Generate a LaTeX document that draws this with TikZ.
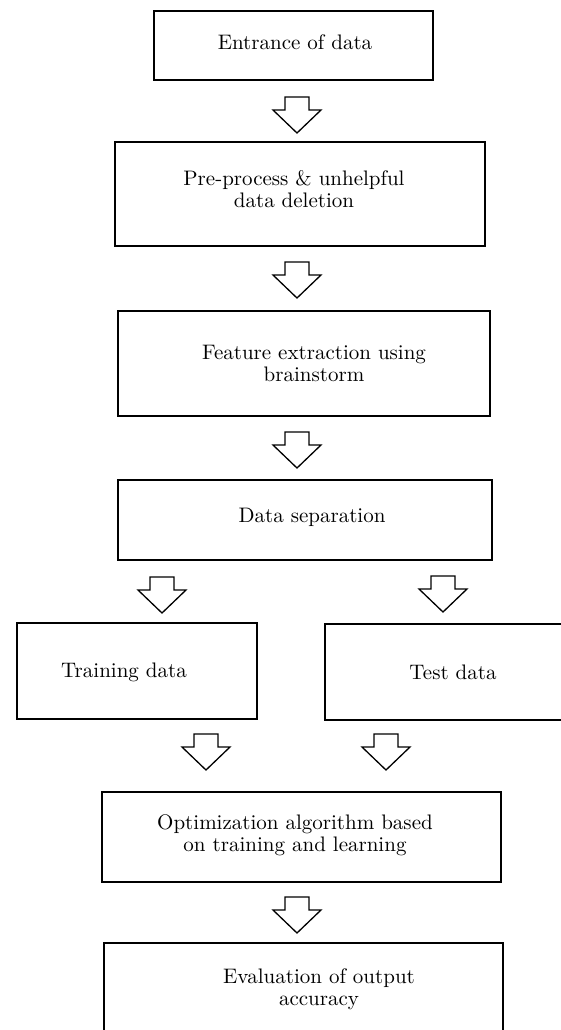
\documentclass[tikz,border=0pt]{standalone}
\begin{document}
\begin{tikzpicture}[x=0.5pt,y=-0.5pt,
  box/.style={draw=black,line width=1.3pt,rectangle,inner sep=0pt,fill=none},
  txt/.style={align=center,inner sep=0pt,font=\fontsize{10.5}{11}\selectfont},
  barrow/.pic={\draw[line width=0.65pt,line join=miter,fill=white]
     (-12,0) -- (12,0) -- (12,13) -- (24,13) -- (0,36) -- (-24,13) -- (-12,13) -- cycle;}
]
\useasboundingbox (0,0) rectangle (561,1030);
\clip (0,0) rectangle (561,1030);
% boxes
\node[box,minimum width=139.5pt,minimum height=34.5pt] (b1) at (293.5,45.5) {};
\node[box,minimum width=185pt,minimum height=52pt] (b2) at (300,194) {};
\node[box,minimum width=186pt,minimum height=52.5pt] (b3) at (304,363.5) {};
\node[box,minimum width=187pt,minimum height=40pt] (b4) at (305,520) {};
\node[box,minimum width=120pt,minimum height=48pt] (b5) at (137,671) {};
\node[box,minimum width=127.5pt,minimum height=48pt] (b6) at (452.5,672) {};
\node[box,minimum width=199.5pt,minimum height=45pt] (b7) at (301.5,837) {};
\node[box,minimum width=199.5pt,minimum height=53.5pt] (b8) at (303.5,996.5) {};
% texts
\node[txt] (t1) at (295,42) {Entrance of data};
\node[txt] (t2) at (294,189) {Pre-process \& unhelpful\\data deletion};
\node[txt] (t3) at (314,363) {Feature extraction using\\brainstorm};
\node[txt] (t4) at (312,517) {Data separation};
\node[txt] (t5) at (124,672) {Training data};
\node[txt] (t6) at (453,672) {Test data};
\node[txt] (t7) at (295,835) {Optimization algorithm based\\on training and learning};
\node[txt] (t8) at (319,989) {Evaluation of output\\accuracy};
% block arrows
\pic at (297,97) {barrow};
\pic at (297,262) {barrow};
\pic at (297,432) {barrow};
\pic at (162,577) {barrow};
\pic at (443,576) {barrow};
\pic at (206,734) {barrow};
\pic at (386,734) {barrow};
\pic at (297,897) {barrow};
\end{tikzpicture}
\end{document}
